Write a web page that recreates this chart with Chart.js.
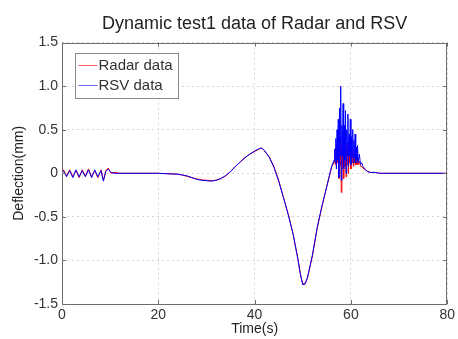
<!DOCTYPE html>
<html>
<head>
<meta charset="utf-8">
<script src="https://cdn.jsdelivr.net/npm/chart.js@4"></script>
<style>
  body { margin: 0; background: #fff; }
  #wrap { width: 458px; height: 339px; }
</style>
</head>
<body>
<div id="wrap"><canvas id="lineChart" width="458" height="339"></canvas></div>
<script>
// time (s) of each sample
var times = [
  0, 0.3, 0.95, 1.6, 2.25, 2.9, 3.55, 4.2, 4.85, 5.5, 6.15, 6.8, 7.45, 8.1, 8.6, 9.1, 9.6, 10.2, 11,
  12, 14, 16, 18, 20, 22, 24,
  25, 26, 27, 28, 29, 30, 31, 32, 33, 34, 35, 36, 37, 38, 39, 40, 41, 41.5, 42, 43, 44, 45, 46, 47, 48,
  49, 49.5, 50, 50.5, 51, 52, 53, 54, 55, 55.5, 56,
  56.5, 56.625, 56.75, 56.875, 57, 57.125, 57.25, 57.375, 57.5, 57.625, 57.75, 57.875,
  58, 58.125, 58.25, 58.375, 58.5, 58.625, 58.75, 58.875, 59, 59.125, 59.25, 59.375,
  59.5, 59.625, 59.75, 59.875, 60, 60.125, 60.25, 60.375, 60.5, 60.625, 60.75, 60.875,
  61, 61.125, 61.25, 61.375, 61.5, 61.75, 62, 62.25, 62.5, 63, 63.5,
  64, 65, 66, 68, 70, 72, 74, 76, 78, 80
];
// deflection (mm)
var radarData = [
  0, 0.04, -0.03, 0.04, -0.04, 0.03, -0.05, 0.04, -0.03, 0.05, -0.04, 0.03, -0.05, 0.04, -0.08, 0.03, 0.06, 0.0, 0.01,
  0.0, 0.0, 0.0, 0.0, 0.0, -0.005, -0.01,
  -0.02, -0.035, -0.05, -0.065, -0.075, -0.08, -0.085, -0.08, -0.06, -0.03, 0.02, 0.08, 0.13, 0.18, 0.22, 0.25, 0.28, 0.29, 0.26, 0.19, 0.08, -0.08, -0.28, -0.47, -0.7,
  -0.98, -1.15, -1.27, -1.26, -1.2, -0.95, -0.63, -0.38, -0.15, -0.04, 0.07,
  0.13, 0.22, 0.1, 0.3, 0.05, 0.35, 0.12, 0.4, -0.06, 0.38, 0.1, 0.42,
  -0.22, 0.3, 0.05, 0.38, -0.06, 0.32, 0.08, 0.4, -0.04, 0.3, 0.1, 0.36,
  0.0, 0.28, 0.12, 0.32, 0.05, 0.25, 0.12, 0.28, 0.08, 0.22, 0.12, 0.24,
  0.1, 0.18, 0.1, 0.18, 0.1, 0.14, 0.08, 0.08, 0.06, 0.04, 0.02,
  0.01, 0.01, 0.0, 0.0, 0.0, 0.0, 0.0, 0.0, 0.0, 0.0
];
var rsvData = [
  0.01, 0.03, -0.04, 0.03, -0.05, 0.04, -0.04, 0.03, -0.04, 0.04, -0.05, 0.04, -0.04, 0.03, -0.09, 0.02, 0.05, 0.01, 0.0,
  0.0, 0.0, 0.0, 0.0, 0.0, -0.005, -0.01,
  -0.02, -0.03, -0.05, -0.07, -0.08, -0.085, -0.09, -0.08, -0.06, -0.025, 0.02, 0.075, 0.13, 0.18, 0.22, 0.255, 0.285, 0.29, 0.265, 0.19, 0.07, -0.09, -0.28, -0.48, -0.7,
  -0.99, -1.16, -1.28, -1.27, -1.19, -0.94, -0.62, -0.37, -0.15, -0.03, 0.08,
  0.15, 0.28, 0.12, 0.4, 0.05, 0.5, 0.15, 0.62, -0.05, 0.75, 0.2, 1.0,
  -0.08, 0.55, 0.2, 0.8, 0.05, 0.55, 0.15, 0.72, 0.0, 0.5, 0.2, 0.68,
  0.08, 0.45, 0.2, 0.62, 0.1, 0.42, 0.18, 0.5, 0.12, 0.38, 0.18, 0.45,
  0.12, 0.3, 0.15, 0.32, 0.12, 0.22, 0.1, 0.12, 0.08, 0.04, 0.02,
  0.01, 0.01, 0.0, 0.0, 0.0, 0.0, 0.0, 0.0, 0.0, 0.0
];
var seriesNames = ['Radar data', 'RSV data'];
var seriesColors = ['#ff0000', '#0000ff'];

function toPoints(vals) {
  return times.map(function(t, i) { return { x: t, y: vals[i] }; });
}

var font = "'Liberation Sans', Arial, sans-serif";

// box round the plot, inward ticks and the legend box, MATLAB style
var framePlugin = {
  id: 'frame',
  afterDraw: function(chart) {
    var ctx = chart.ctx, a = chart.chartArea;
    var xs = chart.scales.x, ys = chart.scales.y;
    ctx.save();
    ctx.strokeStyle = '#6e6e6e';
    ctx.lineWidth = 1;
    ctx.strokeRect(Math.round(a.left) + 0.5, Math.round(a.top) + 0.5,
      Math.round(a.right - a.left) - 1, Math.round(a.bottom - a.top));
    ctx.beginPath();
    xs.ticks.forEach(function(t) {
      var px = Math.round(xs.getPixelForValue(t.value)) + 0.5;
      ctx.moveTo(px, a.bottom); ctx.lineTo(px, a.bottom - 4);
      ctx.moveTo(px, a.top); ctx.lineTo(px, a.top + 4);
    });
    ys.ticks.forEach(function(t) {
      var py = Math.round(ys.getPixelForValue(t.value)) + 0.5;
      ctx.moveTo(a.left, py); ctx.lineTo(a.left + 4, py);
      ctx.moveTo(a.right, py); ctx.lineTo(a.right - 4, py);
    });
    ctx.stroke();

    // legend
    var lx = Math.round(a.left) + 13.5, ly = Math.round(a.top) + 10.5;
    ctx.fillStyle = '#fff';
    ctx.fillRect(lx, ly, 103, 45);
    ctx.strokeStyle = '#8a8a8a';
    ctx.strokeRect(lx, ly, 103, 45);
    ctx.font = '15px ' + font;
    ctx.textBaseline = 'middle';
    seriesNames.forEach(function(name, i) {
      var yy = ly + 12 + i * 20;
      ctx.strokeStyle = seriesColors[i];
      ctx.globalAlpha = 0.6;
      ctx.beginPath();
      ctx.moveTo(lx + 3, yy); ctx.lineTo(lx + 22, yy);
      ctx.stroke();
      ctx.globalAlpha = 1;
      ctx.fillStyle = '#333';
      ctx.fillText(name, lx + 23, yy);
    });
    ctx.restore();
  }
};

var ctx = document.getElementById('lineChart').getContext('2d');
var myChart = new Chart(ctx, {
  type: 'scatter',
  data: {
    datasets: [{
      label: seriesNames[0],
      data: toPoints(radarData),
      showLine: true,
      borderColor: seriesColors[0],
      borderWidth: 1,
      pointRadius: 0,
      tension: 0,
      order: 1
    }, {
      label: seriesNames[1],
      data: toPoints(rsvData),
      showLine: true,
      borderColor: seriesColors[1],
      borderWidth: 1,
      pointRadius: 0,
      tension: 0,
      order: 0
    }]
  },
  options: {
    responsive: false,
    animation: false,
    layout: { padding: 0 },
    plugins: {
      legend: { display: false },
      tooltip: { enabled: false },
      title: {
        display: true,
        fullSize: false,
        text: 'Dynamic test1 data of Radar and RSV',
        color: '#222',
        font: { family: font, size: 18, weight: 'normal' },
        padding: { top: 13, bottom: 8 }
      }
    },
    scales: {
      x: {
        type: 'linear',
        min: 0,
        max: 80,
        afterFit: function(s) { s.height = 35; },
        ticks: { stepSize: 20, color: '#333', padding: 3, font: { family: font, size: 14 } },
        grid: { color: '#d4d4d4', drawTicks: false },
        border: { display: false, dash: [2, 3] },
        title: {
          display: true,
          text: 'Time(s)',
          color: '#222',
          font: { family: font, size: 14 },
          padding: { top: 0, bottom: 1 }
        }
      },
      y: {
        min: -1.5,
        max: 1.5,
        afterFit: function(s) { s.width = 62; },
        ticks: { stepSize: 0.5, color: '#333', padding: 4, font: { family: font, size: 14 } },
        grid: { color: '#d4d4d4', drawTicks: false },
        border: { display: false, dash: [2, 3] },
        title: {
          display: true,
          text: 'Deflection(mm)',
          color: '#222',
          font: { family: font, size: 14 },
          padding: { top: 11, bottom: 0 }
        }
      }
    }
  },
  plugins: [framePlugin]
});
</script>
</body>
</html>
